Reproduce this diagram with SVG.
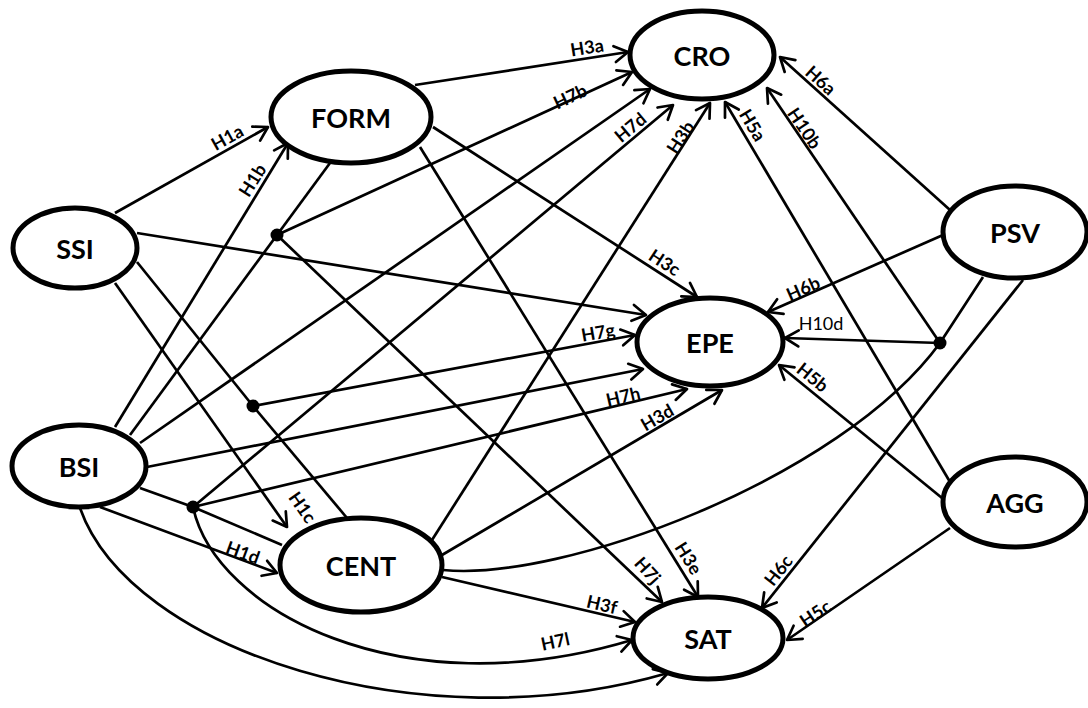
<svg xmlns="http://www.w3.org/2000/svg" width="1088" height="708" viewBox="0 0 1088 708">
  <style>
    .node ellipse { fill: #ffffff; stroke: #000000; stroke-width: 5; }
    .node text { font-family: Lato, "Liberation Sans", sans-serif; font-weight: bold; font-size: 27px; fill: #000; text-anchor: middle; dominant-baseline: central; }
    .edges line, .edges path { stroke: #000; stroke-width: 2.7; fill: none; }
    .arr { marker-end: url(#head); }
    .dot { fill: #000; }
    .lbl { font-family: Lato, "Liberation Sans", sans-serif; font-weight: bold; font-size: 18px; fill: #000; text-anchor: middle; dominant-baseline: central; }
    .lbl.reg { font-weight: normal; }
  </style>
  <defs>
    <marker id="head" markerUnits="userSpaceOnUse" markerWidth="20" markerHeight="20" viewBox="0 0 20 20" refX="16" refY="10" orient="auto">
      <path d="M2.5,2 L16,10 L2.5,18" fill="none" stroke="#000" stroke-width="2.7" stroke-linecap="round" stroke-linejoin="round"/>
    </marker>
  </defs>
  <rect width="1088" height="708" fill="#ffffff"/>

  <g class="edges" id="connectors">
    <!-- SSI -->
    <line class="arr" x1="115" y1="213" x2="268" y2="127"/>
    <line class="arr" x1="137" y1="233" x2="646" y2="315"/>
    <line x1="137" y1="262" x2="253" y2="406"/>
    <line class="arr" x1="115" y1="283" x2="287" y2="527"/>
    <!-- FORM -->
    <line class="arr" x1="415" y1="85" x2="628" y2="52"/>
    <line x1="330" y1="163" x2="277" y2="235"/>
    <line class="arr" x1="433" y1="127" x2="697" y2="297"/>
    <line class="arr" x1="420" y1="147" x2="698" y2="597"/>
    <!-- FORM x BSI junction -->
    <line x1="130" y1="435" x2="277" y2="235"/>
    <line class="arr" x1="277" y1="235" x2="632" y2="72"/>
    <line class="arr" x1="277" y1="235" x2="662" y2="602"/>
    <!-- BSI -->
    <line class="arr" x1="115" y1="427" x2="288" y2="143"/>
    <line class="arr" x1="140" y1="443" x2="650" y2="89"/>
    <line class="arr" x1="147" y1="467" x2="643" y2="369"/>
    <line x1="140" y1="488" x2="193" y2="507"/>
    <line class="arr" x1="100" y1="507" x2="277" y2="573"/>
    <path class="arr" d="M80,508 C130,650 420,745 668,673"/>
    <!-- BSI x CENT junction -->
    <line x1="193" y1="507" x2="282" y2="545"/>
    <line class="arr" x1="193" y1="507" x2="673" y2="105"/>
    <line class="arr" x1="193" y1="507" x2="687" y2="389"/>
    <path class="arr" d="M193,507 C215,610 400,710 632,640"/>
    <!-- SSI x CENT junction -->
    <line x1="253" y1="406" x2="347" y2="518"/>
    <line class="arr" x1="253" y1="406" x2="635" y2="335"/>
    <!-- CENT -->
    <line class="arr" x1="432" y1="540" x2="710" y2="103"/>
    <line class="arr" x1="442" y1="555" x2="722" y2="390"/>
    <line class="arr" x1="442" y1="577" x2="635" y2="622"/>
    <path d="M443,570 C560,582 840,480 940,343 L983,277"/>
    <!-- CENT x PSV junction -->
    <line class="arr" x1="940" y1="343" x2="785" y2="338"/>
    <line class="arr" x1="940" y1="343" x2="767" y2="88"/>
    <!-- PSV -->
    <line class="arr" x1="950" y1="210" x2="780" y2="57"/>
    <line class="arr" x1="943" y1="235" x2="768" y2="312"/>
    <line class="arr" x1="1023" y1="280" x2="762" y2="608"/>
    <!-- AGG -->
    <line class="arr" x1="953" y1="487" x2="725" y2="102"/>
    <line class="arr" x1="942" y1="498" x2="779" y2="365"/>
    <line class="arr" x1="950" y1="528" x2="787" y2="640"/>

    <!-- interaction points -->
    <circle class="dot" cx="277" cy="235" r="6.5"/>
    <circle class="dot" cx="253" cy="406" r="6.5"/>
    <circle class="dot" cx="193" cy="507" r="6.5"/>
    <circle class="dot" cx="940" cy="343" r="6.5"/>

    <!-- path labels -->
    <text class="lbl" transform="translate(227,137) rotate(-29)">H1a</text>
    <text class="lbl" transform="translate(252,180) rotate(-58)">H1b</text>
    <text class="lbl" transform="translate(303,507) rotate(55)">H1c</text>
    <text class="lbl" transform="translate(243,552) rotate(20)">H1d</text>
    <text class="lbl" transform="translate(587,47) rotate(-9)">H3a</text>
    <text class="lbl" transform="translate(570,96) rotate(-25)">H7b</text>
    <text class="lbl" transform="translate(630,127) rotate(-40)">H7d</text>
    <text class="lbl" transform="translate(680,137) rotate(-57)">H3b</text>
    <text class="lbl" transform="translate(753,125) rotate(59)">H5a</text>
    <text class="lbl" transform="translate(805,128) rotate(56)">H10b</text>
    <text class="lbl" transform="translate(821,80) rotate(42)">H6a</text>
    <text class="lbl" transform="translate(665,262) rotate(33)">H3c</text>
    <text class="lbl" transform="translate(803,288) rotate(-24)">H6b</text>
    <text class="lbl reg" transform="translate(821,323)">H10d</text>
    <text class="lbl" transform="translate(813,377) rotate(39)">H5b</text>
    <text class="lbl" transform="translate(598,332) rotate(-10)">H7g</text>
    <text class="lbl" transform="translate(623,396) rotate(-13)">H7h</text>
    <text class="lbl" transform="translate(657,417) rotate(-30)">H3d</text>
    <text class="lbl" transform="translate(648,570) rotate(48)">H7j</text>
    <text class="lbl" transform="translate(689,558) rotate(58)">H3e</text>
    <text class="lbl" transform="translate(602,604) rotate(13)">H3f</text>
    <text class="lbl" transform="translate(555,641) rotate(-12)">H7l</text>
    <text class="lbl" transform="translate(778,570) rotate(-52)">H6c</text>
    <text class="lbl" transform="translate(815,613) rotate(-34)">H5c</text>
  </g>

  <g class="node" id="node-cro"><ellipse cx="702" cy="55" rx="72" ry="44"/><text x="702" y="55">CRO</text></g>
  <g class="node" id="node-form"><ellipse cx="351" cy="117" rx="80" ry="46"/><text x="351" y="117">FORM</text></g>
  <g class="node" id="node-ssi"><ellipse cx="75" cy="248" rx="62" ry="40"/><text x="75" y="248">SSI</text></g>
  <g class="node" id="node-bsi"><ellipse cx="79" cy="466" rx="67" ry="41"/><text x="79" y="466">BSI</text></g>
  <g class="node" id="node-cent"><ellipse cx="361" cy="565" rx="81" ry="47"/><text x="361" y="565">CENT</text></g>
  <g class="node" id="node-epe"><ellipse cx="710" cy="342" rx="73" ry="44"/><text x="710" y="342">EPE</text></g>
  <g class="node" id="node-sat"><ellipse cx="708" cy="638" rx="75" ry="41"/><text x="708" y="638">SAT</text></g>
  <g class="node" id="node-psv"><ellipse cx="1015" cy="232" rx="72" ry="46"/><text x="1015" y="232">PSV</text></g>
  <g class="node" id="node-agg"><ellipse cx="1015" cy="502" rx="72" ry="45"/><text x="1015" y="502">AGG</text></g>
</svg>
